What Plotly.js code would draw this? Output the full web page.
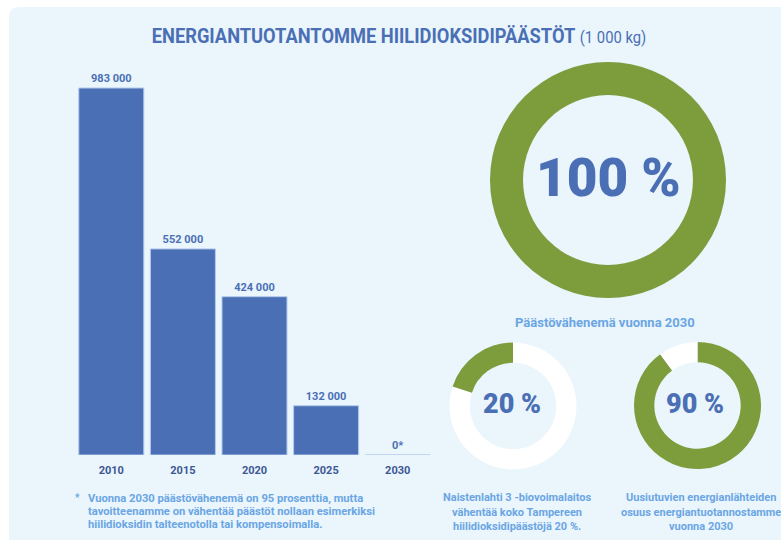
<!DOCTYPE html>
<html>
<head>
<meta charset="utf-8">
<script src="https://cdn.plot.ly/plotly-3.0.1.min.js"></script>
<style>
  html, body { margin: 0; padding: 0; background: #ffffff; }
  #chart { width: 781px; height: 540px; }
  #chart .gtitle { transform-box: fill-box; transform-origin: center; transform: scaleX(0.87); }
</style>
</head>
<body>
<div id="chart"></div>
<script>
// ---- data ----
const years = ['2010', '2015', '2020', '2025', '2030'];
const emissions = [983000, 552000, 424000, 132000, 0];
const emissionLabels = ['983 000', '552 000', '424 000', '132 000', '0*'];

const totalReduction = [100, 0];      // 100 % reduction by 2030
const naistenlahtiShare = [20, 80];   // 20 %
const renewableShare = [90, 10];      // 90 %

const donutTexts = ['100 %', '20 %', '90 %'];
const titleMain = 'ENERGIANTUOTANTOMME HIILIDIOKSIDIPÄÄSTÖT';
const titleUnit = '(1 000 kg)';
const subTitle = 'Päästövähenemä vuonna 2030';
const captionLeft = ['Naistenlahti 3 -biovoimalaitos', 'vähentää koko Tampereen', 'hiilidioksidipäästöjä 20 %.'];
const captionRight = ['Uusiutuvien energianlähteiden', 'osuus energiantuotannostamme', 'vuonna 2030'];
const footnote = ['Vuonna 2030 päästövähenemä on 95 prosenttia, mutta', 'tavoitteenamme on vähentää päästöt nollaan esimerkiksi', 'hiilidioksidin talteenotolla tai kompensoimalla.'];

// ---- style ----
const W = 781, H = 540;
const px = x => x / W;
const py = y => (H - y) / H;
const BLUE = '#4a6fb5';
const DARK = '#3d5894';
const LIGHT = '#6aa6e4';
const GREEN = '#7d9c3b';
const WHITE = '#ffffff';
const PANEL = '#eaf5fc';
const FONT = 'Roboto, "Liberation Sans", sans-serif';

const bar = {
  type: 'bar',
  x: years,
  y: emissions,
  text: emissionLabels,
  textposition: 'outside',
  cliponaxis: false,
  textfont: { family: FONT, size: 11, color: BLUE, weight: 700 },
  marker: { color: BLUE, line: { color: '#b3cbec', width: 1 } },
  hoverinfo: 'skip',
  showlegend: false
};

function donut(values, colors, x0, x1, y0, y1, hole) {
  return {
    type: 'pie',
    values: values,
    sort: false,
    direction: 'clockwise',
    rotation: 0,
    hole: hole,
    textinfo: 'none',
    hoverinfo: 'skip',
    showlegend: false,
    marker: { colors: colors, line: { width: 0 } },
    domain: { x: [px(x0), px(x1)], y: [py(y1), py(y0)] }
  };
}

const traces = [
  bar,
  donut(totalReduction, [GREEN, WHITE], 490, 726, 62, 298, 0.72),
  // share runs counter-clockwise from 12 o'clock: draw remainder first, clockwise
  donut(naistenlahtiShare.slice().reverse(), [WHITE, GREEN], 449.5, 576.5, 342.5, 469.5, 0.68),
  donut(renewableShare, [GREEN, WHITE], 634, 761, 342, 469, 0.68)
];

function ann(text, x, y, size, color, weight, xanchor) {
  return {
    text: text, xref: 'paper', yref: 'paper', x: px(x), y: py(y),
    xanchor: xanchor || 'center', yanchor: 'middle', showarrow: false,
    font: { family: FONT, size: size, color: color, weight: weight }
  };
}

const annotations = [
  ann(donutTexts[0], 608, 178, 53, BLUE, 900),
  ann(donutTexts[1], 512, 404, 27, BLUE, 900),
  ann(donutTexts[2], 695, 404, 27, BLUE, 900),
  ann(subTitle, 605, 322, 13, LIGHT, 700),
  ann('*', 77, 497, 10, LIGHT, 700)
];
captionLeft.forEach((t, i) => annotations.push(ann(t, 517, 497.5 + i * 14.5, 11, LIGHT, 700)));
captionRight.forEach((t, i) => annotations.push(ann(t, 701, 497.5 + i * 14.5, 11, LIGHT, 700)));
footnote.forEach((t, i) => annotations.push(ann(t, 86, 498 + i * 13.3, 11.2, LIGHT, 700, 'left')));

const layout = {
  width: W, height: H, autosize: false,
  margin: { l: 0, r: 0, t: 0, b: 0 },
  paper_bgcolor: '#ffffff',
  plot_bgcolor: 'rgba(0,0,0,0)',
  title: {
    text: '<b>' + titleMain + '</b> <span style="font-size:17px">' + titleUnit + '</span>',
    x: px(399), xanchor: 'center', y: py(36), yanchor: 'middle',
    font: { family: FONT, size: 21, color: BLUE, weight: 400 }
  },
  bargap: 0.092,
  xaxis: {
    type: 'category', range: [-0.5, 4.5], domain: [px(75.5), px(433.5)],
    showgrid: false, zeroline: false, showline: false, ticks: '',
    ticklabelstandoff: 7,
    tickfont: { family: FONT, size: 11, color: DARK, weight: 700 },
    fixedrange: true
  },
  yaxis: {
    range: [0, 1000000], domain: [py(455), py(81.65)],
    visible: false, fixedrange: true
  },
  shapes: [{
    type: 'path', xref: 'paper', yref: 'paper', layer: 'below',
    path: 'M ' + px(9) + ',' + py(560) + ' L ' + px(9) + ',' + py(17) +
          ' Q ' + px(9) + ',' + py(7) + ' ' + px(19) + ',' + py(7) +
          ' L ' + px(800) + ',' + py(7) + ' L ' + px(800) + ',' + py(560) + ' Z',
    fillcolor: PANEL, line: { width: 0 }
  }],
  annotations: annotations
};

Plotly.newPlot('chart', traces, layout, { displayModeBar: false, staticPlot: true });
</script>
</body>
</html>
